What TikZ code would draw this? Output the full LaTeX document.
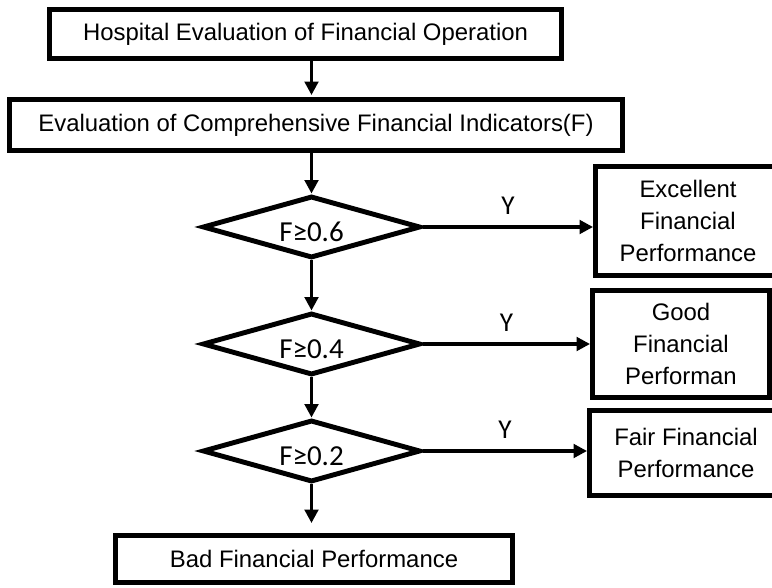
\documentclass[tikz,border=0pt]{standalone}
\usepackage{fontspec}
\setmainfont{Liberation Sans}
\newfontfamily\calfont{Carlito}
\usetikzlibrary{shapes.geometric, arrows.meta}

\begin{document}
\begin{tikzpicture}[x=0.02cm, y=-0.02cm, >={Triangle[length=0.27cm, width=0.27cm]}, line width=1.9pt]
            \tikzset{
                box/.style={draw, rectangle, line width=2.8pt, inner sep=0pt, align=center, font=\fontsize{13.6}{18.2}\selectfont},
                test/.style={draw, diamond, line width=2.8pt, aspect=3.3, inner sep=0pt, minimum width=4.36cm, minimum height=1.24cm, text height=17pt, text depth=0pt, font=\calfont\fontsize{16.5}{18}\selectfont},
                yes/.style={font=\calfont\fontsize{15.5}{18}\selectfont}
            };
            \useasboundingbox (0,0) rectangle (772,588);
            \node[box, minimum width=10.24cm, minimum height=0.98cm] (0) at (305.5,34) {Hospital Evaluation of Financial Operation};
            \node[box, minimum width=12.26cm, minimum height=1.02cm] (1) at (316,125) {Evaluation of Comprehensive Financial Indicators(F)};
            \node[test] (d1) at (311.5,227) {F≥0.6};
            \node[test] (d2) at (311.5,344) {F≥0.4};
            \node[test] (d3) at (311.5,451) {F≥0.2};
            \node[box, minimum width=3.7cm, minimum height=2.18cm] (b1) at (688,221) {Excellent\\Financial\\Performance};
            \node[box, minimum width=3.54cm, minimum height=2.14cm] (b2) at (681,344) {Good\\Financial\\Performan};
            \node[box, minimum width=3.86cm, minimum height=1.7cm] (b3) at (686,453) {Fair Financial\\Performance};
            \node[box, minimum width=7.94cm, minimum height=0.94cm] (bad) at (314,559) {Bad Financial Performance};
            % down the middle
            \draw[->, shorten >=0.04cm] (0.south -| d1) -- (1.north -| d1);
            \draw[->] (1.south -| d1) -- (d1.north);
            \draw[->] (d1) -- (d2);
            \draw[->] (d2) -- (d3);
            \draw[->, shorten >=0.2cm] (d3.south) -- (bad.north -| d3);
            % yes branches
            \draw[->] (d1.east) -- node[yes, above=3pt] {Y} (d1.east -| b1.west);
            \draw[->] (d2.east) -- node[yes, above=3pt] {Y} (d2.east -| b2.west);
            \draw[->] (d3.east) -- node[yes, above=3pt] {Y} (d3.east -| b3.west);
        \end{tikzpicture}
\end{document}
